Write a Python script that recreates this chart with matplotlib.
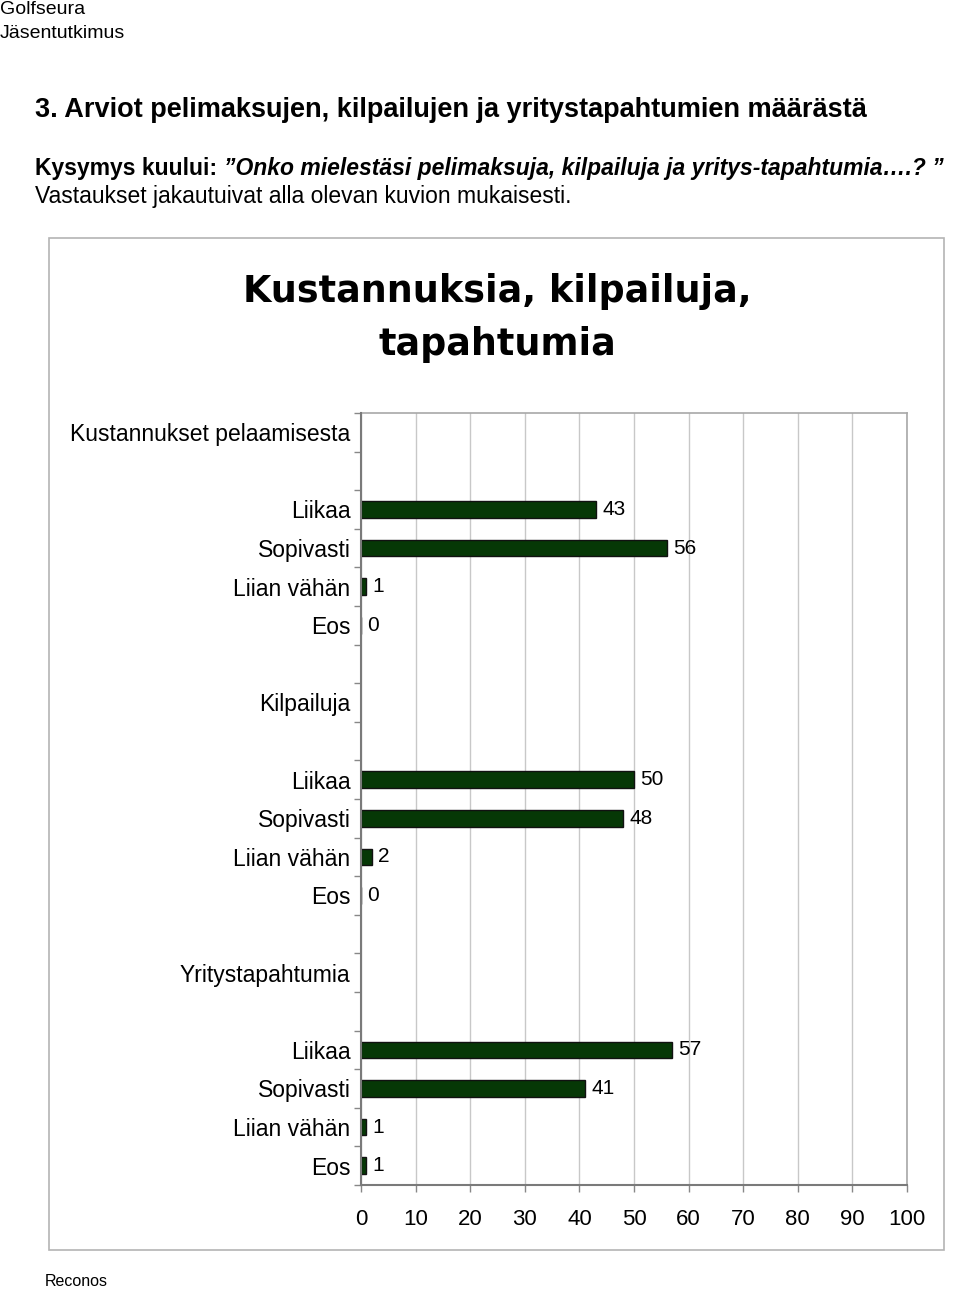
import matplotlib
matplotlib.use("Agg")
import matplotlib.pyplot as plt
from matplotlib.patches import Rectangle

# ---- data ----
groups = ["Kustannukset pelaamisesta", "Kilpailuja", "Yritystapahtumia"]
answers = ["Liikaa", "Sopivasti", "Liian vähän", "Eos"]
kustannukset = [43, 56, 1, 0]
kilpailuja = [50, 48, 2, 0]
yritystapahtumia = [57, 41, 1, 1]
group_values = [kustannukset, kilpailuja, yritystapahtumia]
xticks = [0, 10, 20, 30, 40, 50, 60, 70, 80, 90, 100]

chart_title = "Kustannuksia, kilpailuja,\ntapahtumia"
header1 = "Golfseura"
header2 = "Jäsentutkimus"
section_title = "3. Arviot pelimaksujen, kilpailujen ja yritystapahtumien määrästä"
q_label = "Kysymys kuului: "
q_text = "”Onko mielestäsi pelimaksuja, kilpailuja ja yritys-tapahtumia….? ”"
answer_line = "Vastaukset jakautuivat alla olevan kuvion mukaisesti."
footer = "Reconos"

SANS = ["Liberation Sans", "DejaVu Sans"]
plt.rcParams["font.family"] = SANS

W, H = 960, 1290
fig = plt.figure(figsize=(W / 100, H / 100), dpi=100)

def fx(px):
    return px / W

def fy(py):
    return 1 - py / H

# header texts
fig.text(fx(0), fy(10), header1, fontsize=14, va="center", ha="left")
fig.text(fx(0), fy(33), header2, fontsize=14, va="center", ha="left")
fig.text(fx(35), fy(110), section_title, fontsize=19.5, fontweight="bold",
         va="center", ha="left")
t1 = fig.text(fx(35), fy(168), q_label, fontsize=16.5, fontweight="bold",
              va="center", ha="left")
fig.canvas.draw()
bb = t1.get_window_extent()
fig.text(bb.x1 / W, fy(168), q_text, fontsize=16.5, fontweight="bold",
         fontstyle="italic", va="center", ha="left")
fig.text(fx(35), fy(196), answer_line, fontsize=16.5, va="center", ha="left")
fig.text(fx(45), fy(1281), footer, fontsize=11.5, va="center", ha="left")

# chart frame
fig.patches.append(Rectangle((fx(49), fy(1250)), fx(944) - fx(49), fy(238) - fy(1250),
                             transform=fig.transFigure, fill=False,
                             edgecolor="#b4b4b4", linewidth=1.2))
fig.text(fx(497), fy(318), chart_title, fontsize=26.3, fontweight="bold",
         family="DejaVu Sans", ha="center", va="center", linespacing=1.55)

# axes
ax = fig.add_axes([fx(361), fy(1185), fx(907) - fx(361), fy(413) - fy(1185)])

labels = []
positions = []
vals = []
row = 0
for g, values in zip(groups, group_values):
    labels.append((row, g))
    row += 2
    for a, v in zip(answers, values):
        labels.append((row, a))
        positions.append(row)
        vals.append(v)
        row += 1
    row += 1
nrows = row - 1  # 20

ax.barh(positions, vals, height=0.43, color="#063806", edgecolor="#111111",
        linewidth=1.0, zorder=3)
for p, v in zip(positions, vals):
    ax.annotate(str(v), (v, p), xytext=(4.5, 0), textcoords="offset points",
                va="center", ha="left", fontsize=15)

ax.set_xlim(0, 100)
ax.set_ylim(nrows - 0.5, -0.5)
ax.set_xticks(xticks)
ax.set_xticklabels([str(t) for t in xticks], fontsize=16)
ax.set_yticks([r for r, _ in labels])
ax.set_yticklabels([l for _, l in labels], fontsize=16.5)
ax.set_yticks([r - 0.5 for r in range(nrows + 1)], minor=True)
ax.tick_params(axis="y", which="major", length=0, pad=7.5)
ax.tick_params(axis="y", which="minor", length=5, color="#888888", width=1)
ax.tick_params(axis="x", which="major", length=5, color="#888888", width=1, pad=12)
ax.xaxis.grid(True, color="#c8c8c8", linewidth=1.0, zorder=0)
ax.set_axisbelow(True)
for s in ["left", "bottom"]:
    ax.spines[s].set_color("#7a7a7a")
    ax.spines[s].set_linewidth(1.5)
    ax.spines[s].set_zorder(4)
for s in ["top", "right"]:
    ax.spines[s].set_color("#a8a8a8")
    ax.spines[s].set_linewidth(1.2)

fig.savefig("out.png", dpi=100)
